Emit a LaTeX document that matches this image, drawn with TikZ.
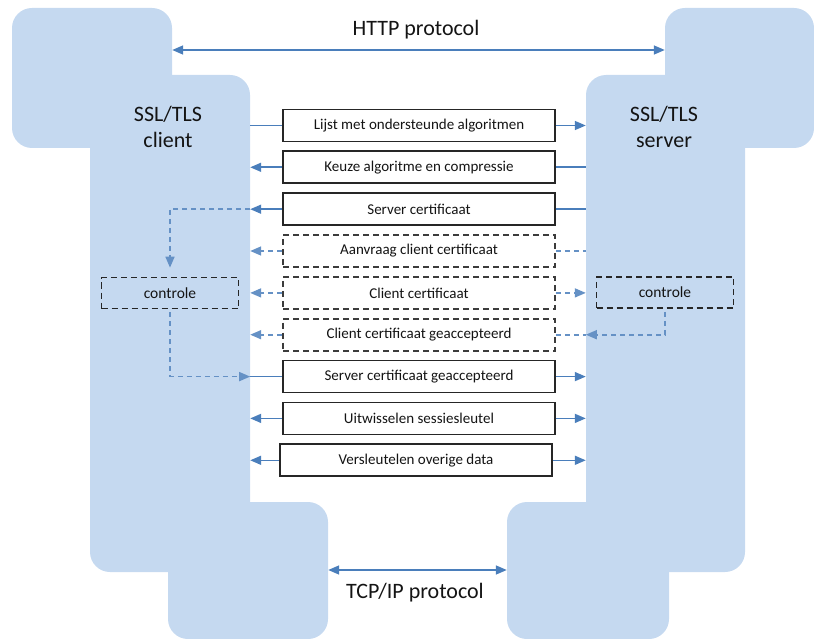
\documentclass[tikz,border=0pt]{standalone}
\usepackage{fontspec}
\setmainfont{Carlito}
\usetikzlibrary{arrows.meta,calc}
\definecolor{bgblue}{RGB}{197,217,240}
\definecolor{arrblue}{RGB}{74,126,187}
\definecolor{boxline}{RGB}{38,38,38}
\definecolor{txt}{RGB}{20,20,20}
\tikzset{
  blk/.style={rectangle,fill=bgblue,draw=none,rounded corners=20pt,inner sep=0pt},
  msg/.style={rectangle,draw=boxline,line width=1.7pt,fill=white,minimum width=272pt,minimum height=32pt,inner sep=0pt,
     font=\fontsize{15}{17}\selectfont,text=txt},
  dmsg/.style={msg,dash pattern=on 6pt off 4pt,draw=boxline!90},
  ctrl/.style={rectangle,draw=boxline,line width=1.7pt,dash pattern=on 6pt off 4pt,minimum width=137pt,minimum height=31pt,inner sep=0pt,
     font=\fontsize{15.5}{17}\selectfont,text=txt},
  big/.style={font=\fontsize{22}{26}\selectfont,text=txt,align=center,inner sep=0pt},
  ln/.style={draw=arrblue,line width=1.6pt},
  arr/.style={ln,-{Triangle[length=11pt,width=9pt]}},
  darr2/.style={ln,{Triangle[length=11pt,width=9pt]}-{Triangle[length=11pt,width=9pt]}},
  dln/.style={ln,draw=arrblue!85,dash pattern=on 5pt off 4pt},
  darr/.style={dln,-{Triangle[length=11pt,width=9pt]}},
}
\begin{document}
\begin{tikzpicture}[x=1pt,y=-1pt]
\useasboundingbox (0,0) rectangle (814,639);
% left background shapes
\node[blk,minimum width=160pt,minimum height=140pt] (ltop) at (92,78) {};
\node[blk,minimum width=160pt,minimum height=497pt] (lcol) at (170,323.5) {};
\node[blk,minimum width=160pt,minimum height=137pt] (lbot) at (248,570.5) {};
% right background shapes
\node[blk,minimum width=149pt,minimum height=140pt] (rtop) at (739.5,78) {};
\node[blk,minimum width=159pt,minimum height=497pt] (rcol) at (665.5,323.5) {};
\node[blk,minimum width=162pt,minimum height=137pt] (rbot) at (588,570.5) {};
% labels
\node[big] (client) at (168,127) {SSL/TLS\\client};
\node[big] (server) at (664,127) {SSL/TLS\\server};
\node[big] (http) at (416,30) {HTTP protocol};
\node[big] (tcp) at (415,593) {TCP/IP protocol};
\coordinate (httpy) at (416,50);
\coordinate (tcpy) at (415,570);
\draw[darr2] (ltop.east |- httpy) -- (rtop.west |- httpy);
\draw[darr2] (lbot.east |- tcpy) -- (rbot.west |- tcpy);
% messages
\node[msg] (b1) at (419,125.5) {Lijst met ondersteunde algoritmen};
\node[msg] (b2) at (419,167.3) {Keuze algoritme en compressie};
\node[msg] (b3) at (419,209.2) {Server certificaat};
\node[dmsg] (b4) at (419,251) {Aanvraag client certificaat};
\node[dmsg] (b5) at (419,292.9) {Client certificaat};
\node[dmsg] (b6) at (419,334.7) {Client certificaat geaccepteerd};
\node[msg] (b7) at (419,376.6) {Server certificaat geaccepteerd};
\node[msg] (b8) at (419,418.4) {Uitwisselen sessiesleutel};
\node[msg] (b9) at (416,460.3) {Versleutelen overige data};
% controle boxes
\node[ctrl] (lctrl) at (170,293) {controle};
\node[ctrl] (rctrl) at (665,292.5) {controle};
% connectors
\draw[ln] (b1.west) -- (b1.west -| lcol.east);
\draw[arr] (b1.east) -- (b1.east -| rcol.west);
\draw[arr] (b2.west) -- (b2.west -| lcol.east);
\draw[ln] (b2.east) -- (b2.east -| rcol.west);
\draw[darr,shorten >=9pt] (b3.west -| lcol.east) -| (lctrl.north);
\draw[arr] (b3.west) -- (b3.west -| lcol.east);
\draw[ln] (b3.east) -- (b3.east -| rcol.west);
\draw[darr] (b4.west) -- (b4.west -| lcol.east);
\draw[dln] (b4.east) -- (b4.east -| rcol.west);
\draw[darr] (b5.west) -- (b5.west -| lcol.east);
\draw[darr] (b5.east) -- (b5.east -| rcol.west);
\draw[darr] (b6.west) -- (b6.west -| lcol.east);
\draw[dln] (b6.east) -- (b6.east -| rcol.west);
\draw[darr,shorten <=3pt] (rctrl.south) |- (b6.east -| rcol.west);
\draw[darr,shorten <=3pt] (lctrl.south) |- (b7.west -| lcol.east);
\draw[ln] (b7.west) -- (b7.west -| lcol.east);
\draw[arr] (b7.east) -- (b7.east -| rcol.west);
\draw[arr] (b8.west) -- (b8.west -| lcol.east);
\draw[arr] (b8.east) -- (b8.east -| rcol.west);
\draw[arr] (b9.west) -- (b9.west -| lcol.east);
\draw[arr] (b9.east) -- (b9.east -| rcol.west);
\end{tikzpicture}
\end{document}
